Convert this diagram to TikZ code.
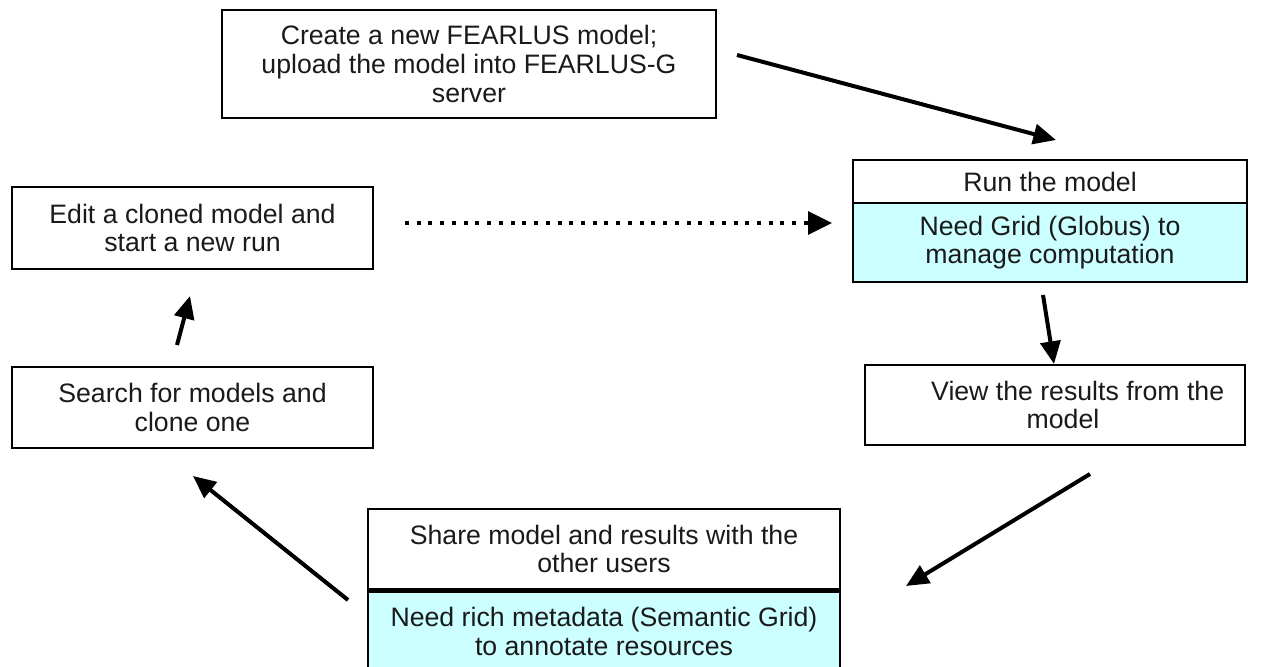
\documentclass[tikz,border=0pt]{standalone}
\usepackage{fontspec}
\setmainfont{Liberation Sans}
\usetikzlibrary{arrows.meta}
\definecolor{lcyan}{HTML}{CCFFFF}
\definecolor{txt}{HTML}{1A1A1A}
\begin{document}
\begin{tikzpicture}[x=0.75pt,y=-0.75pt,
  lbl/.style={inner sep=0pt,align=center,text=txt,font=\fontsize{20}{21.4}\selectfont},
  box/.style={draw=black,line width=1.8pt,lbl},
  flow/.style={line width=3pt,-{Triangle[length=17pt,width=15pt]}},
  dotflow/.style={line width=3.2pt,dash pattern=on 3pt off 5.8pt,-{Triangle[length=18pt,width=17pt]}}]
\useasboundingbox (0,0) rectangle (1263,667);
% top box
\node[box,minimum width=494*0.75pt,minimum height=108*0.75pt] (create) at (469,64)
  {Create a new FEARLUS model;\\upload the model into FEARLUS-G\\server};
% run box
\node[box,minimum width=394*0.75pt,minimum height=43*0.75pt] (run) at (1050,181.5) {Run the model};
\node[box,fill=lcyan,minimum width=394*0.75pt,minimum height=79*0.75pt] (grid) at (1050,242.5)
  {Need Grid (Globus) to\\manage computation};
% edit box
\node[box,minimum width=361*0.75pt,minimum height=82*0.75pt] (edit) at (192.5,228)
  {Edit a cloned model and\\start a new run};
% search box
\node[box,minimum width=361*0.75pt,minimum height=81*0.75pt] (search) at (192.5,407.5)
  {Search for models and\\clone one};
% view box (text sits a little right of centre)
\node[box,minimum width=380*0.75pt,minimum height=80*0.75pt] (view) at (1055,405) {};
\node[lbl] (viewtext) at ([xshift=6pt]view.center)
  {\hspace*{1.1em}View the results from the\\model};
% share box
\node[box,minimum width=472*0.75pt,minimum height=80*0.75pt] (share) at (604,549)
  {Share model and results with the\\other users};
\node[box,fill=lcyan,minimum width=472*0.75pt,minimum height=80*0.75pt,anchor=north] (meta) at (share.south)
  {Need rich metadata (Semantic Grid)\\to annotate resources};
% arrow end points
\coordinate (c1) at (737,55);  \coordinate (c2) at (1056,140);
\coordinate (d1) at (405,223); \coordinate (d2) at (832,223);
\coordinate (r1) at (1043,295); \coordinate (r2) at (1054,364);
\coordinate (v1) at (1090,474); \coordinate (v2) at (906,586);
\coordinate (s1) at (348,600); \coordinate (s2) at (193,476);
\coordinate (e1) at (177,345); \coordinate (e2) at (190,296);
\draw[flow] (c1) -- (c2);
\draw[dotflow] (d1) -- (d2);
\draw[flow] (r1) -- (r2);
\draw[flow] (v1) -- (v2);
\draw[flow] (s1) -- (s2);
\draw[flow] (e1) -- (e2);
\end{tikzpicture}
\end{document}
